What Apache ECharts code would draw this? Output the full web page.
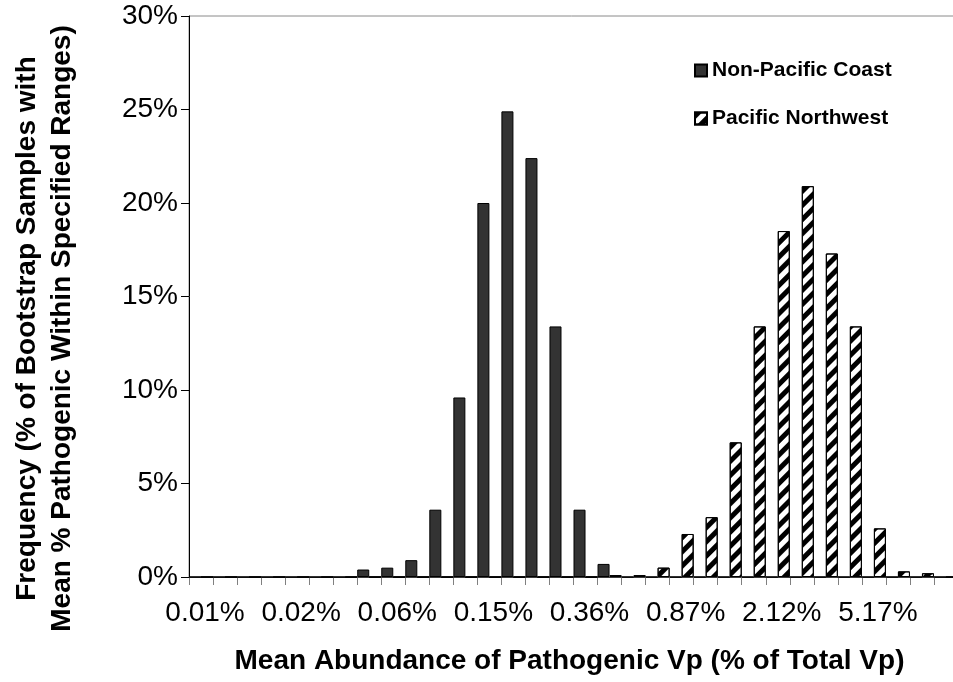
<!DOCTYPE html>
<html>
<head>
<meta charset="utf-8">
<script src="https://cdn.jsdelivr.net/npm/echarts@6/dist/echarts.min.js"></script>
<style>
  html, body { margin: 0; padding: 0; background: #fff; }
  #chart { width: 953px; height: 682px; }
</style>
</head>
<body>
<div id="chart"></div>
<script>
// Abundance bins (log-spaced); only every fourth bin carries a printed label
const binLabels = [
  '0.01%', '', '', '', '0.02%', '', '', '', '0.06%', '', '', '',
  '0.15%', '', '', '', '0.36%', '', '', '', '0.87%', '', '', '',
  '2.12%', '', '', '', '5.17%', '', '', ''
];

// Frequency (%) of bootstrap samples whose mean falls in each bin
const nonPacificCoast = [
  0, 0, 0, 0, 0, 0, 0, 0.4, 0.5, 0.9, 3.6, 9.6, 20.0, 24.9, 22.4, 13.4,
  3.6, 0.7, 0, 0, 0, 0, 0, 0, 0, 0, 0, 0, 0, 0, 0, 0
];
const pacificNorthwest = [
  0, 0, 0, 0, 0, 0, 0, 0, 0, 0, 0, 0, 0, 0, 0, 0,
  0, 0.1, 0.1, 0.5, 2.3, 3.2, 7.2, 13.4, 18.5, 20.9, 17.3, 13.4, 2.6, 0.3, 0.2, 0
];

const yTicks = { min: 0, max: 30, step: 5 };

const seriesNames = ['Non-Pacific Coast', 'Pacific Northwest'];
const xTitle = 'Mean Abundance of Pathogenic Vp (% of Total Vp)';
const yTitle = 'Frequency (% of Bootstrap Samples with\nMean % Pathogenic Within Specified Ranges)';

const FONT = "'Liberation Sans', Arial, Helvetica, sans-serif";

const chart = echarts.init(document.getElementById('chart'), null, { renderer: 'canvas' });

chart.setOption({
  animation: false,
  backgroundColor: '#ffffff',
  grid: {
    left: 189,
    top: 16,
    bottom: 105,
    right: -5,
    containLabel: false,
    outerBoundsMode: 'none',
    show: true,
    borderColor: '#8a8a8a',
    borderWidth: 1,
    backgroundColor: 'transparent'
  },
  legend: {
    orient: 'vertical',
    left: 689,
    top: 55,
    itemWidth: 12,
    itemHeight: 12,
    itemGap: 27,
    icon: 'rect',
    textStyle: {
      fontFamily: FONT,
      fontSize: 21,
      fontWeight: 'bold',
      color: '#000',
      lineHeight: 21
    },
    data: seriesNames
  },
  xAxis: {
    type: 'category',
    data: binLabels,
    boundaryGap: true,
    name: xTitle,
    nameLocation: 'middle',
    nameGap: 70,
    nameTextStyle: {
      fontFamily: FONT,
      fontSize: 28,
      fontWeight: 'bold',
      color: '#000',
      padding: [0, 8, 0, 0]
    },
    axisLine: { show: true, lineStyle: { color: '#3a3a3a', width: 1 } },
    axisTick: {
      show: true,
      interval: 0,
      alignWithLabel: false,
      length: 8,
      inside: false,
      lineStyle: { color: '#808080', width: 1 }
    },
    axisLabel: {
      interval: 0,
      margin: 22,
      fontFamily: FONT,
      fontSize: 28,
      color: '#000',
      padding: [0, 0, 0, 8]
    },
    splitLine: { show: false }
  },
  yAxis: {
    type: 'value',
    min: yTicks.min,
    max: yTicks.max,
    interval: yTicks.step,
    name: yTitle,
    nameLocation: 'middle',
    nameRotate: 90,
    nameGap: 109,
    nameTextStyle: {
      fontFamily: FONT,
      fontSize: 28,
      fontWeight: 'bold',
      color: '#000',
      lineHeight: 35,
      align: 'center',
      padding: [0, 64, 0, 0]
    },
    axisLine: { show: true, lineStyle: { color: '#000', width: 1 } },
    axisTick: { show: true, length: 8, inside: false, lineStyle: { color: '#000', width: 1 } },
    axisLabel: {
      margin: 11,
      fontFamily: FONT,
      fontSize: 28,
      color: '#000',
      formatter: '{value}%'
    },
    splitLine: { show: false }
  },
  series: [
    {
      name: seriesNames[0],
      type: 'bar',
      data: nonPacificCoast,
      barGap: '0%',
      barCategoryGap: '0%',
      itemStyle: {
        color: '#333333',
        borderColor: '#000',
        borderWidth: 1
      }
    },
    {
      name: seriesNames[1],
      type: 'bar',
      data: pacificNorthwest,
      barGap: '0%',
      barCategoryGap: '0%',
      itemStyle: {
        color: '#ffffff',
        borderColor: '#000',
        borderWidth: 1,
        decal: {
          symbol: 'rect',
          symbolSize: 1,
          dashArrayX: [1, 0],
          dashArrayY: [5, 5],
          rotation: -Math.PI / 4,
          color: '#000',
          backgroundColor: null
        }
      }
    }
  ]
});
</script>
</body>
</html>
